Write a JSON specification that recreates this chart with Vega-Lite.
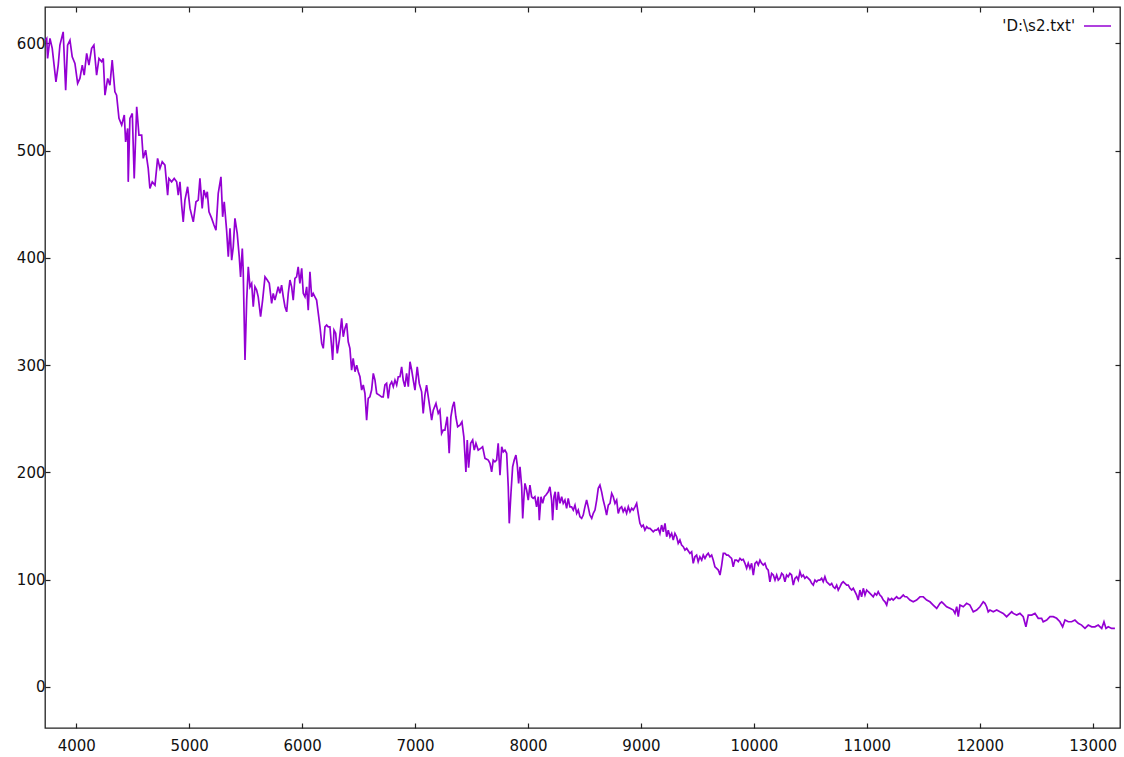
{
"$schema": "https://vega.github.io/schema/vega-lite/v6.json",
"width": 1075, "height": 721,
"autosize": {"type": "none"},
"padding": {"left": 45, "top": 7, "right": 4, "bottom": 29},
"background": "white",
"config": {
  "view": {"stroke": "#222", "strokeWidth": 1.3},
  "font": "DejaVu Sans",
  "axis": {"labelFont": "DejaVu Sans", "labelFontSize": 15, "labelColor": "#111", "tickColor": "#222", "tickWidth": 1.2, "grid": false, "domain": false, "title": null}
},
"data": {"values": [
{"x":3727,"y":603.1},{"x":3738,"y":604.7},{"x":3746,"y":586.0},{"x":3767,"y":604.7},{"x":3787,"y":595.4},{"x":3820,"y":564.2},{"x":3840,"y":579.8},{"x":3855,"y":598.4},{"x":3884,"y":610.8},{"x":3906,"y":556.5},{"x":3923,"y":598.4},{"x":3944,"y":603.1},{"x":3964,"y":587.5},{"x":3988,"y":581.4},{"x":4012,"y":562.7},{"x":4032,"y":567.4},{"x":4053,"y":579.8},{"x":4070,"y":570.5},{"x":4092,"y":590.7},{"x":4112,"y":579.8},{"x":4136,"y":595.4},{"x":4156,"y":598.4},{"x":4180,"y":570.5},{"x":4201,"y":586.0},{"x":4225,"y":582.9},{"x":4239,"y":586.0},{"x":4254,"y":551.8},{"x":4278,"y":567.4},{"x":4298,"y":561.1},{"x":4318,"y":584.4},{"x":4342,"y":554.9},{"x":4357,"y":551.8},{"x":4378,"y":530.1},{"x":4402,"y":523.8},{"x":4425,"y":533.2},{"x":4437,"y":508.2},{"x":4455,"y":520.7},{"x":4460,"y":470.9},{"x":4475,"y":530.1},{"x":4496,"y":534.7},{"x":4513,"y":474.1},{"x":4535,"y":540.9},{"x":4555,"y":514.5},{"x":4579,"y":514.5},{"x":4593,"y":492.8},{"x":4614,"y":500.5},{"x":4637,"y":483.4},{"x":4652,"y":464.8},{"x":4673,"y":470.9},{"x":4697,"y":467.9},{"x":4720,"y":492.8},{"x":4741,"y":483.4},{"x":4761,"y":489.6},{"x":4785,"y":486.5},{"x":4809,"y":458.5},{"x":4820,"y":474.1},{"x":4844,"y":470.9},{"x":4867,"y":474.1},{"x":4889,"y":470.9},{"x":4903,"y":458.5},{"x":4918,"y":470.9},{"x":4933,"y":449.2},{"x":4947,"y":433.6},{"x":4962,"y":453.9},{"x":4986,"y":466.3},{"x":5007,"y":446.1},{"x":5036,"y":433.6},
{"x":5060,"y":452.3},{"x":5080,"y":453.9},{"x":5095,"y":474.1},{"x":5115,"y":446.1},{"x":5130,"y":463.2},{"x":5148,"y":457.0},{"x":5160,"y":461.6},{"x":5175,"y":443.0},{"x":5199,"y":436.8},{"x":5219,"y":430.6},{"x":5237,"y":425.9},{"x":5257,"y":460.1},{"x":5281,"y":475.6},{"x":5296,"y":438.3},{"x":5310,"y":452.3},{"x":5331,"y":425.9},{"x":5346,"y":401.0},{"x":5361,"y":427.5},{"x":5376,"y":397.9},{"x":5390,"y":410.3},{"x":5405,"y":436.8},{"x":5425,"y":422.8},{"x":5443,"y":401.0},{"x":5455,"y":382.3},{"x":5470,"y":408.8},{"x":5478,"y":388.6},{"x":5494,"y":304.7},{"x":5509,"y":360.6},{"x":5523,"y":391.7},{"x":5538,"y":373.0},{"x":5553,"y":376.2},{"x":5567,"y":354.4},{"x":5582,"y":373.0},{"x":5597,"y":369.9},{"x":5611,"y":363.7},{"x":5632,"y":345.1},{"x":5650,"y":360.6},{"x":5671,"y":382.3},{"x":5691,"y":379.3},{"x":5709,"y":376.2},{"x":5730,"y":357.5},{"x":5744,"y":366.9},{"x":5759,"y":360.6},{"x":5774,"y":366.9},{"x":5788,"y":373.0},{"x":5803,"y":366.9},{"x":5818,"y":374.6},{"x":5833,"y":363.7},{"x":5848,"y":354.4},{"x":5863,"y":349.7},{"x":5877,"y":366.9},{"x":5892,"y":379.3},{"x":5907,"y":373.0},{"x":5921,"y":360.6},{"x":5936,"y":380.9},{"x":5951,"y":382.3},{"x":5965,"y":391.7},{"x":5980,"y":376.2},{"x":5996,"y":390.2},{"x":6010,"y":366.9},{"x":6025,"y":363.7},{"x":6040,"y":373.0},{"x":6054,"y":351.3},{"x":6069,"y":387.0},{"x":6084,"y":363.7},{"x":6098,"y":366.9},{"x":6113,"y":363.7},{"x":6128,"y":360.6},{"x":6143,"y":348.2},{"x":6158,"y":335.7},{"x":6173,"y":320.2},{"x":6187,"y":315.6},{"x":6202,"y":335.7},{"x":6217,"y":337.3},{"x":6231,"y":335.7},{"x":6246,"y":335.7},{"x":6261,"y":317.1},{"x":6270,"y":304.7},{"x":6282,"y":332.6},{"x":6297,"y":329.6},{"x":6311,"y":310.9},{"x":6329,"y":323.3},
{"x":6350,"y":343.6},{"x":6364,"y":326.4},{"x":6379,"y":334.2},{"x":6394,"y":338.9},{"x":6408,"y":321.7},{"x":6423,"y":315.6},{"x":6438,"y":295.3},{"x":6452,"y":306.2},{"x":6468,"y":293.8},{"x":6483,"y":300.0},{"x":6497,"y":293.8},{"x":6512,"y":289.1},{"x":6527,"y":276.7},{"x":6541,"y":281.4},{"x":6556,"y":273.6},{"x":6571,"y":248.7},{"x":6585,"y":268.9},{"x":6600,"y":270.4},{"x":6615,"y":276.7},{"x":6630,"y":292.3},{"x":6645,"y":286.0},{"x":6660,"y":273.6},{"x":6683,"y":272.0},{"x":6704,"y":270.4},{"x":6718,"y":270.4},{"x":6733,"y":281.4},{"x":6748,"y":282.9},{"x":6762,"y":268.9},{"x":6777,"y":281.4},{"x":6793,"y":284.4},{"x":6807,"y":279.8},{"x":6822,"y":286.0},{"x":6837,"y":281.4},{"x":6851,"y":289.1},{"x":6866,"y":289.1},{"x":6881,"y":298.4},{"x":6895,"y":286.0},{"x":6910,"y":279.8},{"x":6925,"y":292.3},{"x":6940,"y":279.8},{"x":6955,"y":303.1},{"x":6970,"y":295.3},{"x":6984,"y":286.0},{"x":6999,"y":276.7},{"x":7019,"y":298.4},{"x":7037,"y":282.9},{"x":7058,"y":275.1},{"x":7072,"y":255.0},{"x":7087,"y":272.0},{"x":7102,"y":281.4},{"x":7117,"y":270.4},{"x":7132,"y":259.6},{"x":7147,"y":248.7},{"x":7161,"y":258.0},{"x":7185,"y":264.3},{"x":7205,"y":255.0},{"x":7220,"y":258.0},{"x":7235,"y":236.3},{"x":7249,"y":239.4},{"x":7264,"y":239.4},{"x":7285,"y":251.8},{"x":7302,"y":217.7},{"x":7317,"y":251.8},{"x":7332,"y":261.1},{"x":7346,"y":265.8},{"x":7361,"y":251.8},{"x":7377,"y":242.5},{"x":7397,"y":244.0},{"x":7415,"y":247.1},{"x":7432,"y":233.1},{"x":7450,"y":200.3},{"x":7462,"y":230.1},{"x":7474,"y":204.3},{"x":7492,"y":227.0},{"x":7510,"y":230.1},{"x":7524,"y":220.7},{"x":7539,"y":227.0},{"x":7559,"y":220.7},{"x":7581,"y":222.3},{"x":7598,"y":223.8},{"x":7619,"y":213.0},{"x":7648,"y":211.4},
{"x":7663,"y":208.3},{"x":7678,"y":200.5},{"x":7692,"y":211.4},{"x":7707,"y":209.8},{"x":7722,"y":211.4},{"x":7736,"y":227.0},{"x":7752,"y":197.4},{"x":7767,"y":223.8},{"x":7781,"y":219.1},{"x":7796,"y":220.7},{"x":7811,"y":217.7},{"x":7825,"y":186.5},{"x":7834,"y":152.4},{"x":7849,"y":180.4},{"x":7864,"y":205.2},{"x":7878,"y":211.4},{"x":7893,"y":216.1},{"x":7905,"y":206.7},{"x":7917,"y":189.7},{"x":7929,"y":205.2},{"x":7944,"y":186.5},{"x":7953,"y":157.0},{"x":7964,"y":177.2},{"x":7973,"y":189.7},{"x":7988,"y":183.4},{"x":8002,"y":174.1},{"x":8017,"y":188.1},{"x":8032,"y":177.2},{"x":8046,"y":175.7},{"x":8061,"y":177.2},{"x":8076,"y":167.8},{"x":8091,"y":177.2},{"x":8100,"y":155.4},{"x":8115,"y":177.2},{"x":8130,"y":171.0},{"x":8144,"y":177.2},{"x":8159,"y":178.8},{"x":8179,"y":181.8},{"x":8194,"y":186.5},{"x":8209,"y":174.1},{"x":8218,"y":155.4},{"x":8230,"y":177.2},{"x":8241,"y":181.8},{"x":8254,"y":164.8},{"x":8268,"y":181.8},{"x":8283,"y":171.0},{"x":8298,"y":177.2},{"x":8312,"y":171.0},{"x":8327,"y":174.1},{"x":8342,"y":166.4},{"x":8356,"y":175.7},{"x":8371,"y":167.8},{"x":8386,"y":167.8},{"x":8401,"y":164.8},{"x":8416,"y":169.4},{"x":8431,"y":161.7},{"x":8445,"y":164.8},{"x":8460,"y":158.5},{"x":8475,"y":157.0},{"x":8489,"y":160.1},{"x":8504,"y":167.8},{"x":8519,"y":174.1},{"x":8533,"y":167.8},{"x":8548,"y":160.1},{"x":8564,"y":157.0},{"x":8578,"y":161.7},{"x":8593,"y":164.8},{"x":8608,"y":174.1},{"x":8622,"y":185.0},{"x":8637,"y":188.1},{"x":8652,"y":181.8},{"x":8666,"y":174.1},{"x":8681,"y":167.8},{"x":8696,"y":160.1},{"x":8711,"y":169.4},{"x":8726,"y":171.0},{"x":8741,"y":180.4},{"x":8755,"y":177.2},{"x":8770,"y":171.0},{"x":8785,"y":174.1},{"x":8799,"y":161.7},{"x":8814,"y":166.4},{"x":8829,"y":167.8},{"x":8843,"y":163.2},{"x":8858,"y":166.4},{"x":8873,"y":161.7},{"x":8888,"y":167.8},{"x":8903,"y":163.2},{"x":8918,"y":166.4},{"x":8932,"y":164.8},{"x":8947,"y":167.8},{"x":8962,"y":171.0},{"x":8976,"y":161.7},{"x":8991,"y":152.4},{"x":9006,"y":149.2},{"x":9020,"y":150.8},{"x":9035,"y":146.1},{"x":9051,"y":149.2},{"x":9065,"y":147.7},{"x":9080,"y":147.7},{"x":9095,"y":146.1},{"x":9109,"y":144.5},{"x":9124,"y":146.1},{"x":9139,"y":146.1},{"x":9153,"y":147.7},{"x":9168,"y":143.0},{"x":9183,"y":150.8},{"x":9198,"y":144.5},{"x":9213,"y":152.4},{"x":9228,"y":139.9},{"x":9242,"y":146.1},{"x":9257,"y":139.9},{"x":9272,"y":143.0},{"x":9286,"y":136.8},{"x":9301,"y":143.0},{"x":9316,"y":139.9},{"x":9330,"y":133.7},{"x":9345,"y":136.8},{"x":9360,"y":132.1},{"x":9375,"y":130.6},{"x":9390,"y":127.5},{"x":9405,"y":129.0},
{"x":9434,"y":124.4},{"x":9449,"y":125.9},{"x":9463,"y":115.1},{"x":9478,"y":121.2},{"x":9493,"y":122.8},{"x":9507,"y":116.6},{"x":9522,"y":121.2},{"x":9538,"y":118.1},{"x":9552,"y":122.8},{"x":9567,"y":119.7},{"x":9582,"y":122.8},{"x":9596,"y":124.4},{"x":9611,"y":121.2},{"x":9626,"y":122.8},{"x":9640,"y":118.1},{"x":9655,"y":111.9},{"x":9670,"y":110.4},{"x":9685,"y":108.8},{"x":9700,"y":104.2},{"x":9715,"y":113.5},{"x":9729,"y":124.4},{"x":9744,"y":124.4},{"x":9759,"y":122.8},{"x":9773,"y":122.8},{"x":9788,"y":121.2},{"x":9803,"y":119.7},{"x":9817,"y":111.9},{"x":9832,"y":118.1},{"x":9847,"y":118.1},{"x":9862,"y":116.6},{"x":9877,"y":119.7},{"x":9892,"y":118.1},{"x":9906,"y":118.8},{"x":9921,"y":115.1},{"x":9936,"y":110.4},{"x":9950,"y":115.1},{"x":9965,"y":110.4},{"x":9980,"y":115.1},{"x":9995,"y":104.2},{"x":10010,"y":115.1},{"x":10025,"y":116.6},{"x":10039,"y":113.5},{"x":10054,"y":118.1},{"x":10069,"y":115.1},{"x":10083,"y":113.5},{"x":10098,"y":115.1},{"x":10113,"y":110.4},{"x":10127,"y":108.8},{"x":10142,"y":97.9},{"x":10157,"y":105.7},{"x":10172,"y":104.2},{"x":10187,"y":99.5},{"x":10202,"y":104.2},{"x":10216,"y":99.5},{"x":10231,"y":101.1},{"x":10246,"y":105.7},{"x":10260,"y":104.2},{"x":10275,"y":97.9},{"x":10290,"y":104.2},{"x":10304,"y":102.6},{"x":10319,"y":105.7},{"x":10334,"y":104.2},{"x":10349,"y":94.8},{"x":10364,"y":101.1},{"x":10379,"y":102.6},{"x":10393,"y":99.5},{"x":10408,"y":107.2},{"x":10423,"y":102.6},{"x":10437,"y":104.2},{"x":10452,"y":101.1},{"x":10467,"y":102.6},{"x":10482,"y":101.1},{"x":10497,"y":99.5},{"x":10512,"y":96.4},{"x":10526,"y":94.8},{"x":10541,"y":99.5},{"x":10556,"y":97.9},{"x":10570,"y":99.5},{"x":10585,"y":99.5},{"x":10600,"y":101.1},{"x":10614,"y":97.9},{"x":10629,"y":102.6},{"x":10644,"y":97.9},{"x":10659,"y":96.4},{"x":10674,"y":94.8},{"x":10689,"y":96.4},{"x":10703,"y":93.2},{"x":10718,"y":91.8},{"x":10733,"y":94.8},{"x":10747,"y":90.2},{"x":10762,"y":93.2},{"x":10777,"y":96.4},{"x":10791,"y":97.9},{"x":10806,"y":96.4},{"x":10822,"y":94.8},{"x":10836,"y":94.8},{"x":10851,"y":91.8},{"x":10866,"y":90.2},{"x":10880,"y":91.8},{"x":10895,"y":88.6},{"x":10910,"y":85.5},{"x":10924,"y":80.8},{"x":10939,"y":90.2},{"x":10954,"y":83.9},{"x":10969,"y":91.8},{"x":10984,"y":85.5},{"x":10999,"y":90.2},{"x":11013,"y":88.6},{"x":11028,"y":87.1},{"x":11043,"y":85.5},{"x":11057,"y":83.9},{"x":11072,"y":87.1},{"x":11087,"y":85.5},{"x":11101,"y":88.6},{"x":11116,"y":85.5},{"x":11131,"y":83.9},{"x":11146,"y":80.8},{"x":11161,"y":79.2},{"x":11176,"y":76.2},{"x":11190,"y":82.4},{"x":11205,"y":80.8},{"x":11220,"y":82.4},{"x":11234,"y":80.8},{"x":11249,"y":82.4},{"x":11264,"y":83.9},{"x":11278,"y":82.4},
{"x":11294,"y":82.4},{"x":11323,"y":85.5},{"x":11338,"y":83.9},{"x":11353,"y":83.9},{"x":11382,"y":80.8},{"x":11411,"y":79.2},{"x":11441,"y":80.8},{"x":11471,"y":83.9},{"x":11500,"y":83.9},{"x":11530,"y":80.8},{"x":11559,"y":79.2},{"x":11588,"y":76.2},{"x":11619,"y":73.1},{"x":11648,"y":77.8},{"x":11663,"y":79.2},{"x":11677,"y":77.8},{"x":11707,"y":74.6},{"x":11736,"y":73.1},{"x":11766,"y":71.5},{"x":11781,"y":68.4},{"x":11796,"y":74.6},{"x":11810,"y":65.3},{"x":11825,"y":76.2},{"x":11854,"y":74.6},{"x":11884,"y":77.8},{"x":11913,"y":76.2},{"x":11943,"y":69.9},{"x":11973,"y":71.5},{"x":12002,"y":74.6},{"x":12031,"y":79.2},{"x":12046,"y":77.8},{"x":12061,"y":74.6},{"x":12075,"y":69.9},{"x":12090,"y":71.5},{"x":12120,"y":69.9},{"x":12150,"y":71.5},{"x":12179,"y":69.9},{"x":12208,"y":68.4},{"x":12238,"y":65.3},{"x":12268,"y":68.4},{"x":12283,"y":69.9},{"x":12297,"y":68.4},{"x":12327,"y":66.8},{"x":12356,"y":68.4},{"x":12385,"y":65.3},{"x":12409,"y":55.9},{"x":12430,"y":66.8},{"x":12460,"y":66.8},{"x":12489,"y":68.4},{"x":12518,"y":63.8},{"x":12548,"y":63.8},{"x":12562,"y":60.6},{"x":12593,"y":62.2},{"x":12622,"y":65.3},{"x":12651,"y":65.3},{"x":12681,"y":63.8},{"x":12710,"y":60.6},{"x":12734,"y":55.9},{"x":12755,"y":62.2},{"x":12784,"y":60.6},{"x":12814,"y":60.6},{"x":12843,"y":62.2},{"x":12872,"y":59.1},{"x":12902,"y":57.5},{"x":12932,"y":54.4},{"x":12961,"y":57.5},{"x":12991,"y":55.9},{"x":13020,"y":55.9},{"x":13049,"y":57.5},{"x":13080,"y":54.4},{"x":13100,"y":60.6},{"x":13118,"y":54.4},{"x":13138,"y":55.9},{"x":13168,"y":54.4},{"x":13197,"y":54.4}
]},
"layer": [
  {
    "mark": {"type": "line", "strokeWidth": 1.7},
    "encoding": {
      "x": {"field": "x", "type": "quantitative",
        "scale": {"domain": [3723, 13242], "nice": false, "zero": false},
        "axis": {"orient": "bottom", "values": [4000,5000,6000,7000,8000,9000,10000,11000,12000,13000], "format": "d", "tickSize": -5, "labelPadding": 15}},
      "y": {"field": "y", "type": "quantitative",
        "scale": {"domain": [-38.5, 634], "nice": false, "zero": false},
        "axis": {"orient": "left", "values": [0,100,200,300,400,500,600], "format": "d", "tickSize": -5, "labelPadding": 5}},
      "color": {"datum": "'D:\\s2.txt'", "type": "nominal",
        "scale": {"range": ["#9400d3"]},
        "legend": {"orient": "none", "legendX": 1038, "legendY": 4.5, "title": null, "padding": 0,
          "symbolType": "stroke", "symbolSize": 729, "symbolStrokeWidth": 1.5,
          "labelFont": "DejaVu Sans", "labelFontSize": 15, "labelColor": "#111",
          "labelAlign": "right", "labelOffset": -37}}
    }
  },
  {
    "mark": {"type": "line", "opacity": 0},
    "encoding": {
      "x": {"field": "x", "type": "quantitative",
        "scale": {"domain": [3723, 13242], "nice": false, "zero": false},
        "axis": {"orient": "top", "values": [4000,5000,6000,7000,8000,9000,10000,11000,12000,13000], "labels": false, "tickSize": -5}},
      "y": {"field": "y", "type": "quantitative",
        "scale": {"domain": [-38.5, 634], "nice": false, "zero": false},
        "axis": {"orient": "right", "values": [0,100,200,300,400,500,600], "labels": false, "tickSize": -5}}
    }
  }
],
"resolve": {"axis": {"x": "independent", "y": "independent"}}
}
